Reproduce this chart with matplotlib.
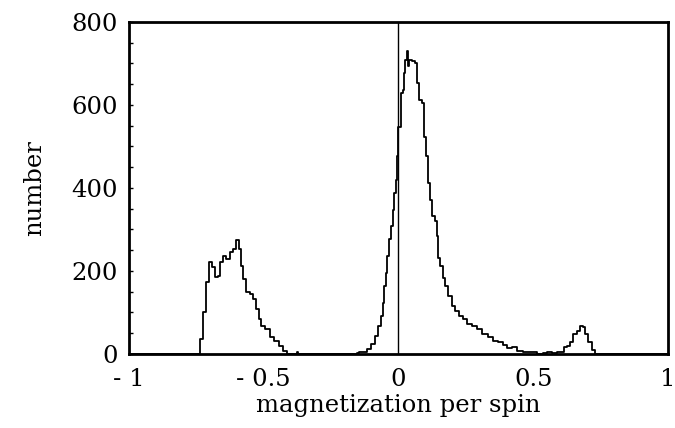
import numpy as np
import matplotlib
matplotlib.use("Agg")
import matplotlib.pyplot as plt

# magnetization per spin (bin positions) and counts
magnetization = [
    -1.0, -0.745, -0.740, -0.730, -0.718, -0.708, -0.699, -0.688, -0.675, -0.662,
    -0.659, -0.644, -0.633, -0.619, -0.607, -0.599, -0.588, -0.581, -0.570, -0.559,
    -0.545, -0.533, -0.522, -0.514, -0.503, -0.484, -0.471, -0.452, -0.433, -0.421,
    -0.410, -0.380, -0.375, -0.370, -0.160, -0.150,
    -0.143, -0.125, -0.112, -0.094, -0.081, -0.069, -0.062, -0.056, -0.050, -0.044,
    -0.038, -0.032, -0.025, -0.019, -0.013, -0.007, -0.003, 0.003, 0.012, 0.018,
    0.022, 0.028, 0.033, 0.036, 0.043, 0.055, 0.065, 0.073, 0.082, 0.092,
    0.098, 0.107, 0.113, 0.122, 0.129, 0.139, 0.144, 0.151, 0.160, 0.169,
    0.179, 0.191, 0.203, 0.216, 0.235, 0.247, 0.265, 0.284, 0.302, 0.321,
    0.340, 0.358, 0.377, 0.395, 0.414, 0.432, 0.451, 0.476, 0.506, 0.525,
    0.544, 0.560, 0.581, 0.595, 0.609, 0.618, 0.630, 0.643, 0.655, 0.667,
    0.680, 0.688, 0.698, 0.711, 0.723, 0.732, 0.740, 1.0,
]
counts = [
    0, 0, 0, 36, 100, 173, 221, 209, 185, 187,
    221, 235, 228, 245, 252, 275, 252, 212, 180, 149,
    144, 132, 108, 84, 67, 60, 41, 32, 20, 7,
    0, 0, 4, 0, 0, 2,
    5, 6, 12, 24, 44, 68, 92, 124, 164, 196,
    236, 276, 308, 348, 388, 420, 476, 548, 628, 636,
    676, 709, 729, 693, 709, 705, 701, 653, 613, 605,
    524, 476, 412, 372, 332, 320, 284, 232, 212, 184,
    164, 140, 116, 104, 92, 84, 72, 68, 60, 48,
    40, 32, 28, 22, 14, 16, 8, 6, 4, 0,
    3, 4, 3, 6, 4, 16, 20, 30, 48, 56,
    68, 64, 48, 28, 10, 0, 0, 0,
]

x_ticks = [-1, -0.5, 0, 0.5, 1]
x_tick_labels = ["- 1", "- 0.5", "0", "0.5", "1"]
y_ticks = [0, 200, 400, 600, 800]

plt.rcParams["font.family"] = ["DejaVu Serif"]
fs = 17.5

fig = plt.figure(figsize=(6.75, 4.28), dpi=100)
ax = fig.add_axes([0.1911, 0.1729, 0.7985, 0.7757])

ax.plot(magnetization, counts, drawstyle="steps-mid", color="black", lw=1.3)
ax.axvline(0, color="black", lw=1.0)

ax.set_xlim(-1, 1)
ax.set_ylim(0, 800)
ax.set_xticks(x_ticks)
ax.set_xticklabels(x_tick_labels)
ax.set_yticks(y_ticks)
ax.set_yticks(np.arange(0, 801, 50), minor=True)
ax.tick_params(axis="x", length=0, pad=10, labelsize=fs)
ax.tick_params(axis="y", which="both", direction="in", length=3, width=1,
               pad=8, labelsize=fs)

for spine in ax.spines.values():
    spine.set_linewidth(2)

ax.set_xlabel("magnetization per spin", fontsize=fs, labelpad=2)
ax.set_ylabel("number", fontsize=fs, labelpad=18)

fig.savefig("out.png", dpi=100)
